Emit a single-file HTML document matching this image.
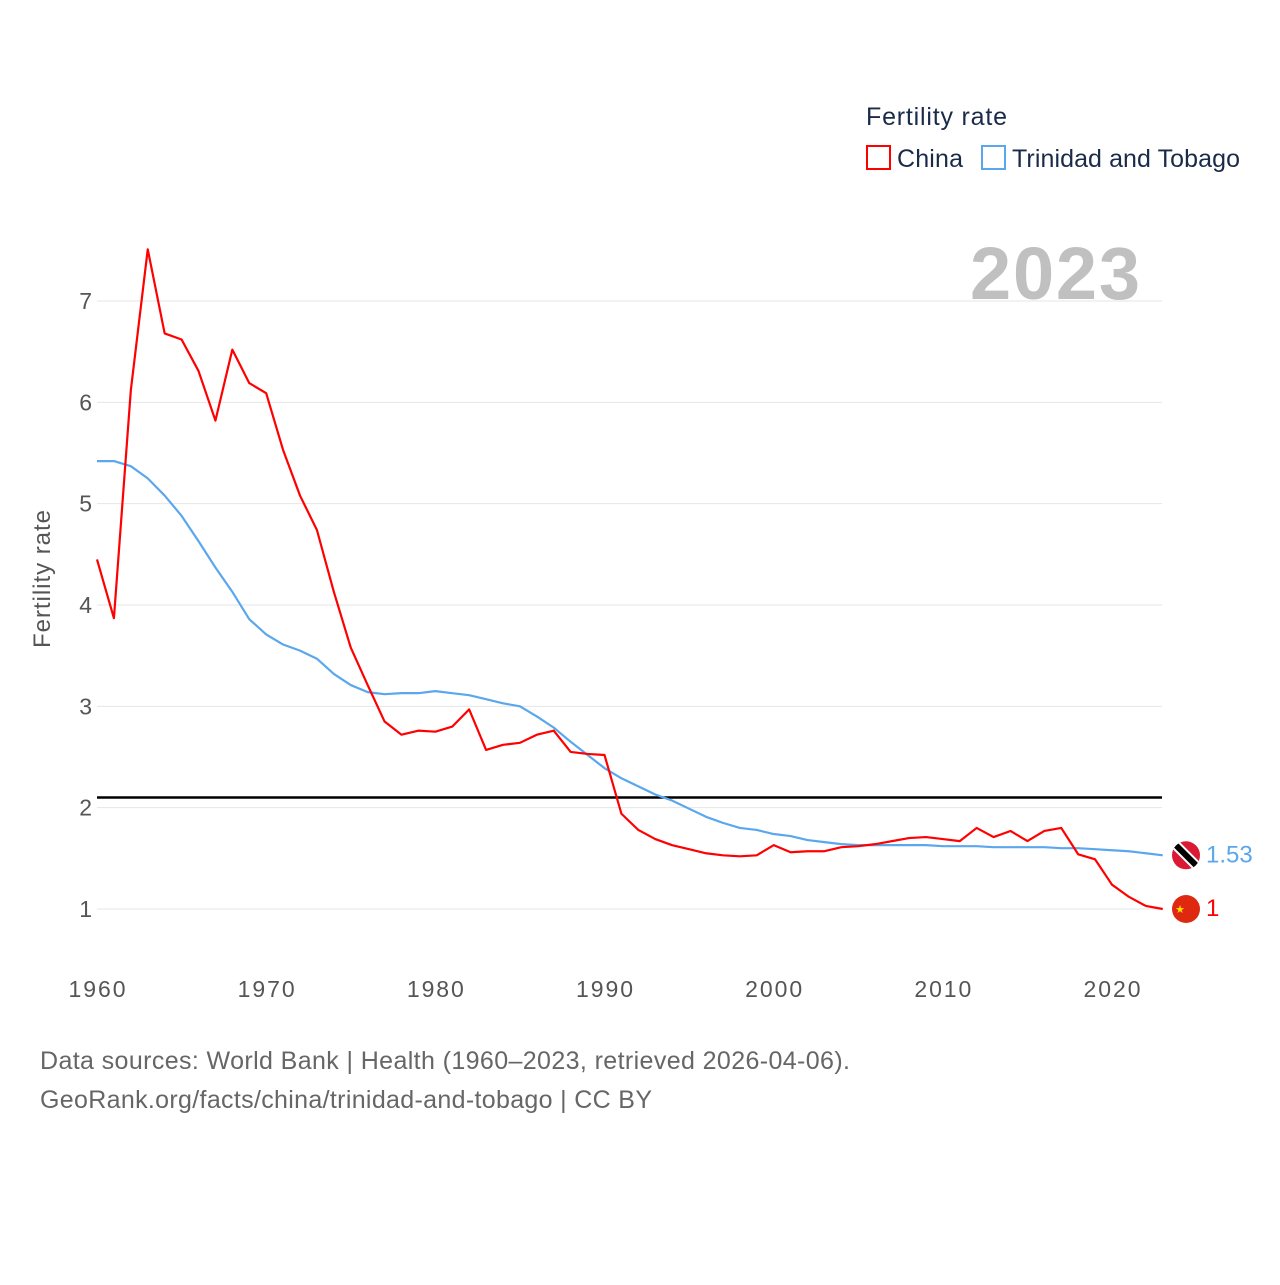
<!DOCTYPE html>
<html><head><meta charset="utf-8"><style>
body{margin:0;background:#fff;font-family:"Liberation Sans",sans-serif}
svg text{font-family:"Liberation Sans",sans-serif}
</style></head><body>
<svg id="c" width="1280" height="1280" xmlns="http://www.w3.org/2000/svg">
<text x="866" y="125" font-size="25" fill="#1a2b4a" textLength="141">Fertility rate</text>
<rect x="867" y="146" width="23" height="23" fill="none" stroke="#f00" stroke-width="2"/>
<text x="897" y="167" font-size="25" fill="#1a2b4a" textLength="66">China</text>
<rect x="982" y="146" width="23" height="23" fill="none" stroke="#5aa7ee" stroke-width="2"/>
<text x="1012" y="167" font-size="25" fill="#1a2b4a" textLength="228">Trinidad and Tobago</text>
<text x="1140" y="299" font-size="74" font-weight="bold" fill="#c0c0c0" text-anchor="end" textLength="170">2023</text>
<text transform="translate(50,579) rotate(-90)" font-size="24" fill="#555" text-anchor="middle" textLength="138">Fertility rate</text>
<g id="grid"></g><g id="lines"></g>
<text x="40" y="1069" font-size="25" fill="#666" textLength="810">Data sources: World Bank | Health (1960–2023, retrieved 2026-04-06).</text>
<text x="40" y="1108" font-size="25" fill="#666" textLength="612">GeoRank.org/facts/china/trinidad-and-tobago | CC BY</text>
</svg>
<script>
const years=[];for(let y=1960;y<=2023;y++)years.push(y);
const china=[4.45,3.87,6.12,7.51,6.68,6.62,6.31,5.82,6.52,6.19,6.09,5.53,5.08,4.74,4.13,3.58,3.21,2.85,2.72,2.76,2.75,2.80,2.97,2.57,2.62,2.64,2.72,2.76,2.55,2.53,2.52,1.94,1.78,1.69,1.63,1.59,1.55,1.53,1.52,1.53,1.63,1.56,1.57,1.57,1.61,1.62,1.64,1.67,1.70,1.71,1.69,1.67,1.80,1.71,1.77,1.67,1.77,1.80,1.54,1.49,1.24,1.12,1.03,1.00];
const trinidad=[5.42,5.42,5.37,5.25,5.08,4.88,4.63,4.37,4.13,3.86,3.71,3.61,3.55,3.47,3.32,3.21,3.14,3.12,3.13,3.13,3.15,3.13,3.11,3.07,3.03,3.00,2.90,2.79,2.65,2.52,2.39,2.29,2.21,2.13,2.07,1.99,1.91,1.85,1.80,1.78,1.74,1.72,1.68,1.66,1.64,1.63,1.63,1.63,1.63,1.63,1.62,1.62,1.62,1.61,1.61,1.61,1.61,1.60,1.60,1.59,1.58,1.57,1.55,1.53];
const yTicks=[1,2,3,4,5,6,7];
const xTicks=[1960,1970,1980,1990,2000,2010,2020];
const refValue=2.1;
const X=y=>97+(y-1960)*(1112-97)/60;
const Y=v=>909-(v-1)*(608/6);
const NS='http://www.w3.org/2000/svg';
const g=document.getElementById('grid'),L=document.getElementById('lines');
function mk(t,a,p){const e=document.createElementNS(NS,t);for(const k in a)e.setAttribute(k,a[k]);p.appendChild(e);return e;}
yTicks.forEach(v=>{
const l=mk('line',{x1:97,x2:1162,y1:Y(v),y2:Y(v),stroke:'#e6e6e6','stroke-width':1},g);


const t=mk('text',{x:92,y:Y(v)+8,'font-size':23,fill:'#555','text-anchor':'end'},g);t.textContent=v;


});
xTicks.forEach(v=>{
const t=mk('text',{x:X(v),y:997,'font-size':23,fill:'#555','text-anchor':'middle',textLength:57},g);t.textContent=v;


});
const r=mk('line',{x1:97,x2:1162,y1:Y(refValue),y2:Y(refValue),stroke:'#000','stroke-width':2.5},L);


function series(d,c,n){
const p=mk('polyline',{points:d.map((v,i)=>X(years[i])+','+Y(v)).join(' '),fill:'none',stroke:c,'stroke-width':2.2,'stroke-linejoin':'round'},L);


}
series(trinidad,'#5aa7ee','trinidad');
series(china,'#f00','china');
const last=years.length-1;
const ty=Y(trinidad[last]);
const tf=mk('g',{},L);


mk('clipPath',{id:'cp1'},tf).appendChild(document.createElementNS(NS,'circle')).setAttribute('r',14);
document.querySelector('#cp1 circle').setAttribute('cx',1186);document.querySelector('#cp1 circle').setAttribute('cy',ty);
const tg=mk('g',{'clip-path':'url(#cp1)'},tf);
mk('rect',{x:1170,y:ty-16,width:32,height:32,fill:'#da1a35'},tg);
mk('line',{x1:1172,y1:ty-14,x2:1200,y2:ty+14,stroke:'#fff','stroke-width':10},tg);
mk('line',{x1:1172,y1:ty-14,x2:1200,y2:ty+14,stroke:'#000','stroke-width':6},tg);
const tl=mk('text',{x:1206,y:ty+7,'font-size':24,fill:'#5aa7ee'},L);tl.textContent=trinidad[last];


const cy=Y(china[last]);
const cf=mk('g',{},L);


mk('circle',{cx:1186,cy:cy,r:14,fill:'#de2910'},cf);
const st=mk('text',{x:1180,y:cy+4,'font-size':11,fill:'#ffde00','text-anchor':'middle'},cf);st.textContent='★';
const cl=mk('text',{x:1206,y:cy+7,'font-size':24,fill:'#f00'},L);cl.textContent=china[last];


</script>
</body></html>
